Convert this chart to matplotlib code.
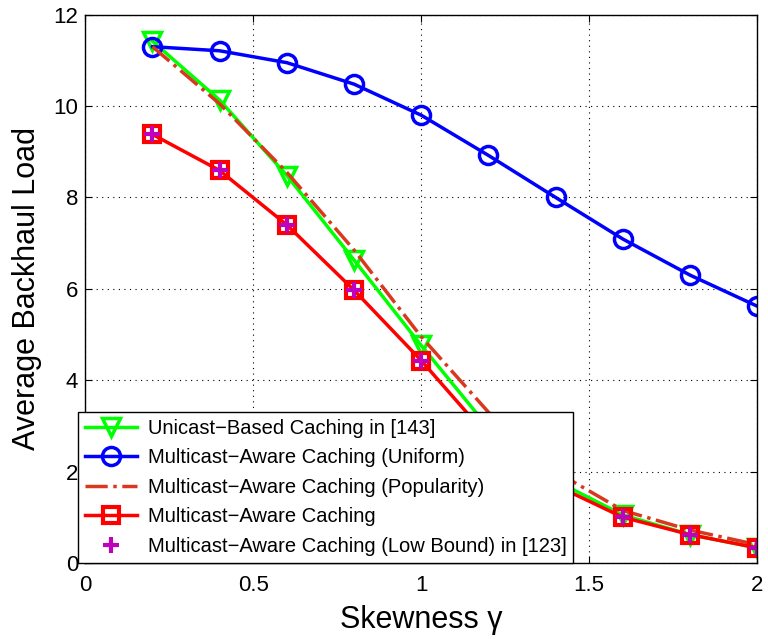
import matplotlib
matplotlib.use('Agg')
import matplotlib.pyplot as plt

plt.rcParams['font.family'] = ['Liberation Sans', 'DejaVu Sans']

# skewness values
gamma = [0.2, 0.4, 0.6, 0.8, 1.0, 1.2, 1.4, 1.6, 1.8, 2.0]

# average backhaul load per scheme
unicast = [11.42, 10.13, 8.48, 6.63, 4.76, 2.96, 1.8, 1.05, 0.62, 0.33]
uniform = [11.3, 11.21, 10.95, 10.48, 9.8, 8.92, 8.0, 7.09, 6.3, 5.62]
popularity = [11.3, 10.05, 8.55, 6.85, 4.95, 3.3, 2.0, 1.15, 0.72, 0.4]
multicast = [9.38, 8.59, 7.4, 5.97, 4.43, 2.75, 1.7, 1.0, 0.62, 0.33]
low_bound = [9.38, 8.59, 7.4, 5.97, 4.43, 2.75, 1.7, 1.0, 0.62, 0.33]

labels = ['Unicast\u2212Based Caching in [143]',
          'Multicast\u2212Aware Caching (Uniform)',
          'Multicast\u2212Aware Caching (Popularity)',
          'Multicast\u2212Aware Caching',
          'Multicast\u2212Aware Caching (Low Bound) in [123]']

fig = plt.figure(figsize=(7.68, 6.39), dpi=100)
ax = fig.add_axes([0.111, 0.119, 0.875, 0.858])

ax.plot(gamma, unicast, color='#00ff00', lw=2.5, marker='v', ms=13,
        mfc='none', mew=2.5, label=labels[0])
ax.plot(gamma, uniform, color='#0000ff', lw=2.5, marker='o', ms=13,
        mfc='none', mew=2.5, label=labels[1])
ax.plot(gamma, popularity, color='#d9381e', lw=2.5, ls='-.',
        label=labels[2])
ax.plot(gamma, multicast, color='#ff0000', lw=2.5, marker='s', ms=12,
        mfc='none', mew=3, label=labels[3])
ax.plot(gamma, low_bound, color='#bf00bf', lw=0, marker='+', ms=12,
        mew=3, label=labels[4])

ax.set_xlim(0, 2)
ax.set_ylim(0, 12)
ax.set_xticks([0, 0.5, 1, 1.5, 2])
ax.set_xticklabels(['0', '0.5', '1', '1.5', '2'])
ax.set_yticks([0, 2, 4, 6, 8, 10, 12])
ax.tick_params(direction='in', top=True, right=True, labelsize=16, length=5)
ax.tick_params(axis='x', pad=9)
ax.tick_params(axis='y', pad=5)
ax.grid(True, color='black', ls=(0, (1, 4)), lw=0.8)
for s in ax.spines.values():
    s.set_linewidth(1)

ax.set_xlabel('Skewness \u03b3', fontsize=22, labelpad=6)
ax.set_ylabel('Average Backhaul Load', fontsize=22, labelpad=8)

leg = ax.legend(loc='lower left', bbox_to_anchor=(0.1016, 0.119),
                bbox_transform=fig.transFigure, borderaxespad=0,
                fancybox=False, framealpha=1, edgecolor='black',
                fontsize=14.5, handlelength=2.6, labelspacing=0.52,
                borderpad=0.35, handletextpad=0.5)
leg.get_frame().set_linewidth(1)

fig.savefig('out.png', dpi=100)
